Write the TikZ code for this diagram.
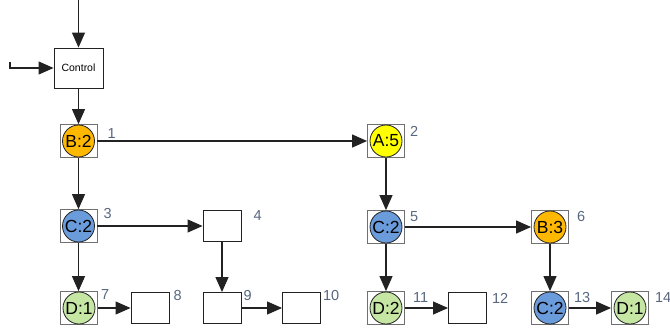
\documentclass[tikz,border=0pt]{standalone}
\usepackage{fontspec}
\setmainfont{Liberation Sans}
\usetikzlibrary{arrows.meta}
\definecolor{ink}{HTML}{222222}
\definecolor{boxgray}{HTML}{707070}
\definecolor{lblc}{HTML}{56677F}
\definecolor{colA}{HTML}{FFFF00}
\definecolor{colB}{HTML}{FFB800}
\definecolor{colC}{HTML}{6A9BDB}
\definecolor{colD}{HTML}{C6E6A3}
\tikzset{
  cbox/.style={draw=boxgray, line width=0.8pt, minimum width=37pt, minimum height=33pt, inner sep=0pt},
  ball/.style={circle, draw=ink, line width=0.8pt, minimum size=32pt, inner sep=0pt,
               font=\fontsize{17.5}{17.5}\selectfont},
  pbox/.style={draw=ink, fill=white, line width=0.9pt, minimum width=38pt, minimum height=31pt, inner sep=0pt},
  ctrlbox/.style={draw=ink, fill=white, line width=0.9pt, minimum width=49pt, minimum height=40pt,
                  inner sep=0pt, font=\fontsize{10.5}{10.5}\selectfont},
  lbl/.style={text=lblc, anchor=north west, inner sep=0pt, font=\fontsize{14.5}{14.5}\selectfont},
  arr/.style={draw=ink, line width=1.1pt, -{Triangle[length=15pt,width=13pt]}}
}
\begin{document}
\begin{tikzpicture}[x=1pt,y=-1pt]
\useasboundingbox (0,0) rectangle (670,333);

% control block and its inputs
\node[ctrlbox] (ctrl) at (78.5,68) {Control};
\coordinate (topin) at (78.5,0);
\coordinate (leftin) at (10,62);
\draw[arr] (topin) -- (ctrl.north);
\draw[arr] (leftin) |- (ctrl.west);

% state nodes: grey frame with a coloured disc
\node[cbox] (n1) at (78.5,141) {};   \node[ball, fill=colB] at (n1) {B:2};
\node[cbox] (n2) at (386,141) {};    \node[ball, fill=colA] at (n2) {A:5};
\node[cbox] (n3) at (78.5,226) {};   \node[ball, fill=colC] at (n3) {C:2};
\node[pbox] (n4) at (222,226) {};
\node[cbox] (n5) at (386,227) {};    \node[ball, fill=colC] at (n5) {C:2};
\node[cbox] (n6) at (550,227) {};    \node[ball, fill=colB] at (n6) {B:3};
\node[cbox] (n7) at (79,308) {};     \node[ball, fill=colD] at (n7) {D:1};
\node[pbox] (n8) at (150,308) {};
\node[pbox] (n9) at (222,308) {};
\node[pbox] (n10) at (301.5,308) {};
\node[cbox] (n11) at (386,308) {};   \node[ball, fill=colD] at (n11) {D:2};
\node[pbox] (n12) at (467.5,308) {};
\node[cbox] (n13) at (550,308) {};   \node[ball, fill=colC] at (n13) {C:2};
\node[cbox] (n14) at (630,308) {};   \node[ball, fill=colD] at (n14) {D:1};

% index labels
\node[lbl] at ([xshift=10pt,yshift=-4pt]n1.north east) {1};
\node[lbl] at ([xshift=5pt,yshift=-2pt]n2.north east) {2};
\node[lbl] at ([xshift=6pt,yshift=1pt]n3.north east) {3};
\node[lbl] at ([xshift=12pt,yshift=0pt]n4.north east) {4};
\node[lbl] at ([xshift=5pt,yshift=-1pt]n5.north east) {5};
\node[lbl] at ([xshift=8pt,yshift=-1pt]n6.north east) {6};
\node[lbl] at ([xshift=3pt,yshift=2pt]n7.north east) {7};
\node[lbl] at ([xshift=4pt,yshift=2pt]n8.north east) {8};
\node[lbl] at ([xshift=2pt,yshift=2pt]n9.north east) {9};
\node[lbl] at ([xshift=2pt,yshift=2pt]n10.north east) {10};
\node[lbl] at ([xshift=8pt,yshift=-1pt]n11.north east) {11};
\node[lbl] at ([xshift=5pt,yshift=-1pt]n12.north east) {12};
\node[lbl] at ([xshift=5pt,yshift=-1pt]n13.north east) {13};
\node[lbl] at ([xshift=6pt,yshift=-1pt]n14.north east) {14};

% connectors
\draw[arr] (ctrl.south) -- (n1.north);
\draw[arr] (n1.east) -- (n2.west);
\draw[arr] (n1.south) -- (n3.north);
\draw[arr] (n3.east) -- (n4.west);
\draw[arr] (n3.south) -- (n7.north -| n3.south);
\draw[arr] (n4.south) -- (n9.north);
\draw[arr] (n7.east) -- (n8.west);
\draw[arr] (n9.east) -- (n10.west);
\draw[arr] (n2.south) -- (n5.north);
\draw[arr] (n5.east) -- (n6.west);
\draw[arr] (n5.south) -- (n11.north);
\draw[arr] (n11.east) -- (n12.west);
\draw[arr] (n6.south) -- (n13.north);
\draw[arr] (n13.east) -- (n14.west);
\end{tikzpicture}
\end{document}
